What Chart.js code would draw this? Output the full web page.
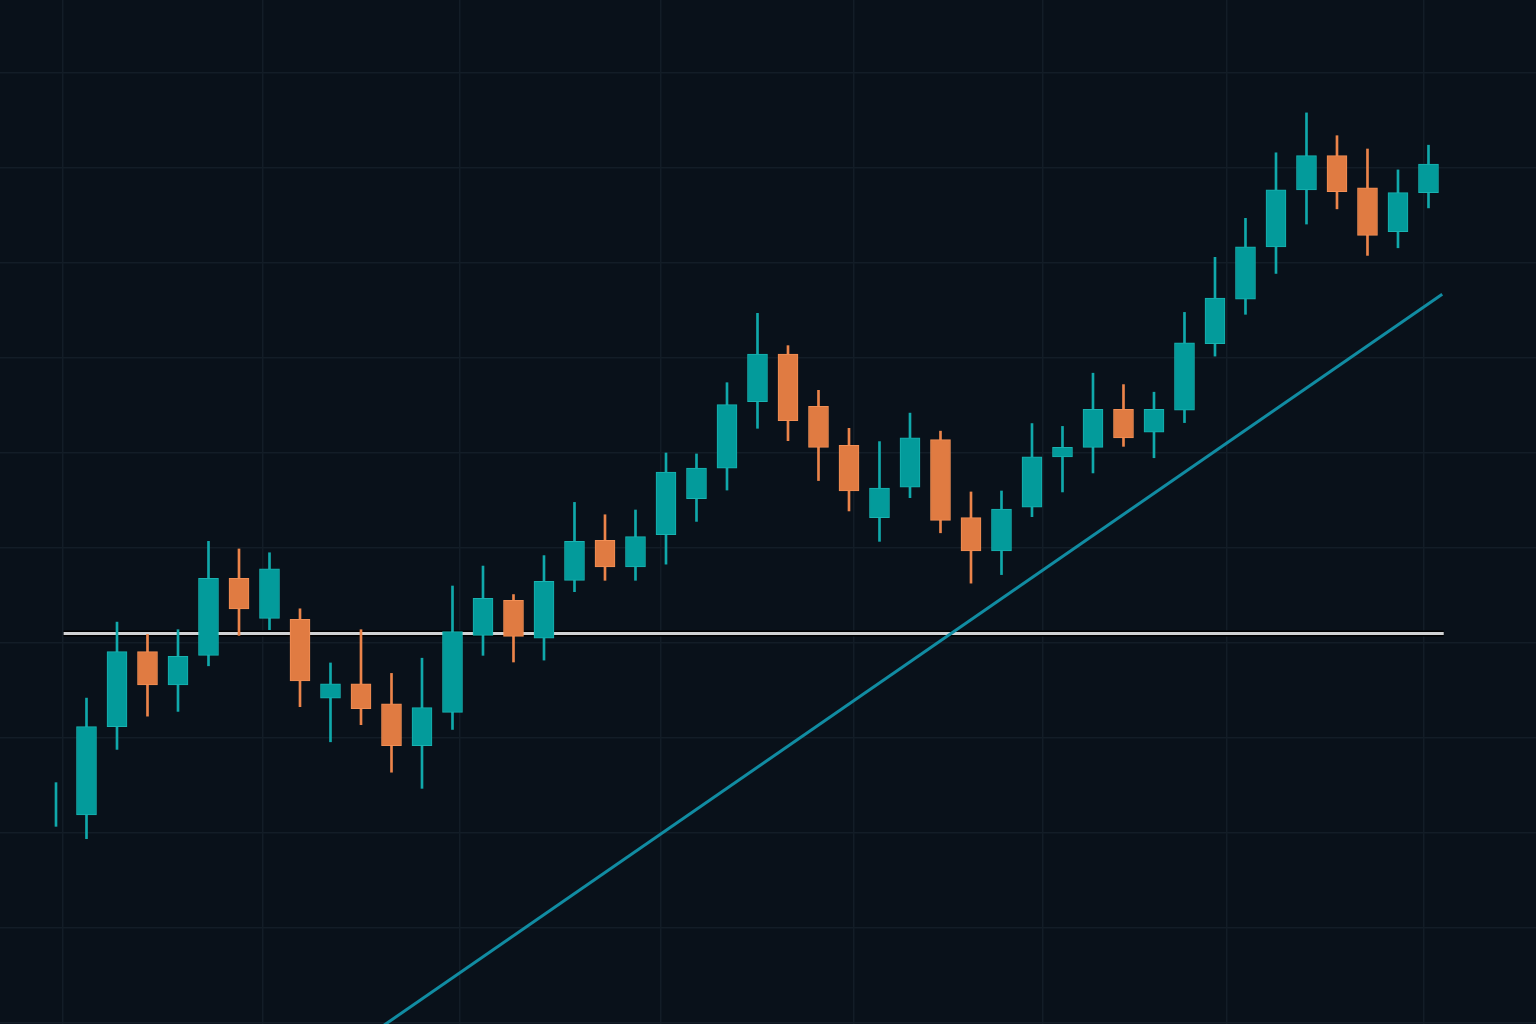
<!DOCTYPE html>
<html>
<head>
<meta charset="utf-8">
<script src="https://cdn.jsdelivr.net/npm/chart.js@4.4.1/dist/chart.umd.min.js"></script>
<style>
  html, body { margin: 0; padding: 0; background: #09111a; }
  #wrap { width: 1536px; height: 1024px; }
</style>
</head>
<body>
<div id="wrap"><canvas id="candles"></canvas></div>
<script>
// OHLC values, one per session
const opens  = [123.0, 121.9, 131.2, 139.1, 135.6, 138.7, 146.8, 142.6, 142.5, 134.2, 135.7, 133.6, 129.2, 132.7, 140.8, 144.5, 140.5, 146.6, 150.8, 148.0, 151.4, 155.2, 158.4, 165.4, 170.4, 164.9, 160.8, 153.2, 156.4, 161.4, 153.2, 149.7, 154.3, 159.6, 160.6, 164.6, 162.2, 164.5, 171.5, 176.2, 181.7, 187.7, 191.3, 187.9, 183.3, 187.4];
const closes = [123.0, 131.2, 139.1, 135.6, 138.6, 146.8, 143.6, 147.8, 136.0, 135.7, 133.1, 129.2, 133.2, 141.2, 144.7, 140.7, 146.5, 150.7, 148.0, 151.2, 158.0, 158.4, 165.1, 170.4, 163.4, 160.6, 156.0, 156.3, 161.6, 152.9, 149.7, 154.1, 159.6, 160.6, 164.6, 161.6, 164.6, 171.6, 176.3, 181.7, 187.7, 191.3, 187.5, 182.9, 187.4, 190.4];
const highs  = [125.3, 134.2, 142.2, 140.9, 141.4, 150.7, 149.9, 149.5, 143.6, 137.9, 141.4, 136.8, 138.4, 146.0, 148.1, 145.1, 149.2, 154.8, 153.5, 154.0, 160.0, 159.9, 167.4, 174.7, 171.3, 166.6, 162.6, 161.2, 164.2, 162.3, 155.9, 156.0, 163.1, 162.8, 168.4, 167.2, 166.4, 174.8, 180.6, 184.7, 191.6, 195.8, 193.4, 192.0, 189.8, 192.4];
const lows   = [120.7, 119.4, 128.8, 132.3, 132.8, 137.6, 140.8, 141.4, 133.3, 129.6, 131.4, 126.4, 124.7, 130.9, 138.7, 138.0, 138.2, 145.4, 146.6, 146.6, 148.3, 152.8, 156.1, 162.6, 161.3, 157.1, 153.9, 150.7, 155.3, 151.6, 146.3, 147.2, 153.3, 155.9, 157.9, 160.7, 159.5, 163.2, 170.2, 174.6, 178.9, 184.1, 185.7, 180.8, 181.6, 185.8];

// horizontal level and rising trend line (start / end points)
const levelLine = [{x: 0.25, y: 141.0}, {x: 45.5, y: 141.0}];
const trendLine = [{x: 10.0, y: 98.1}, {x: 45.45, y: 176.7}];

// vertical grid positions (session index)
const xGrid = [0.23, 6.79, 13.25, 19.84, 26.16, 32.36, 38.39, 44.85];

const UP = '#039b9b', UP_EDGE = '#19b3b1';
const DOWN = '#e07b42', DOWN_EDGE = '#f28f55';
const GRID = '#131d27';

const upDay = opens.map((o, i) => closes[i] >= o);
const flat = opens.map((o, i) => closes[i] === o);
const bodies = opens.map((o, i) => ({x: i, y: [o, closes[i]]}));
const wicks = lows.map((l, i) => ({x: i, y: [l, highs[i]]}));

new Chart(document.getElementById('candles'), {
  type: 'bar',
  data: {
    datasets: [
      {
        label: 'body',
        data: bodies,
        order: 0,
        grouped: false,
        barThickness: 20,
        // a flat candle has no body, only its wick
        backgroundColor: upDay.map((u, i) => flat[i] ? 'rgba(0,0,0,0)' : (u ? UP : DOWN)),
        borderColor: upDay.map(u => u ? UP_EDGE : DOWN_EDGE),
        borderWidth: flat.map(f => f ? 0 : 1),
        inflateAmount: flat.map(f => f ? 0 : 'auto'),
        borderSkipped: false
      },
      {
        label: 'wick',
        data: wicks,
        order: 1,
        grouped: false,
        barThickness: 2,
        backgroundColor: upDay.map(u => u ? '#10a9ab' : '#ec844a'),
        borderWidth: 0
      },
      {
        type: 'line',
        label: 'trend',
        data: trendLine,
        order: 2,
        borderColor: '#118ca2',
        borderWidth: 3,
        pointRadius: 0
      },
      {
        type: 'line',
        label: 'level',
        data: levelLine,
        order: 3,
        borderColor: '#cfd1d3',
        borderWidth: 3,
        pointRadius: 0
      },
      {
        type: 'line',
        label: 'level shadow',
        data: levelLine,
        order: 4,
        borderColor: '#000000',
        borderWidth: 6,
        pointRadius: 0
      }
    ]
  },
  options: {
    responsive: true,
    maintainAspectRatio: false,
    animation: false,
    devicePixelRatio: 1,
    layout: { padding: 0 },
    plugins: {
      legend: { display: false },
      tooltip: { enabled: false }
    },
    scales: {
      x: {
        type: 'linear',
        min: -1.836,
        max: 48.525,
        offset: false,
        border: { display: false },
        grid: { color: GRID, lineWidth: 1.5, drawTicks: false, offset: false },
        ticks: { display: false },
        afterBuildTicks: axis => { axis.ticks = xGrid.map(v => ({value: v})); }
      },
      y: {
        min: 99.895,
        max: 207.684,
        border: { display: false },
        grid: { color: GRID, lineWidth: 1.5, drawTicks: false },
        ticks: { display: false, stepSize: 10, includeBounds: false }
      }
    }
  }
});
</script>
</body>
</html>
